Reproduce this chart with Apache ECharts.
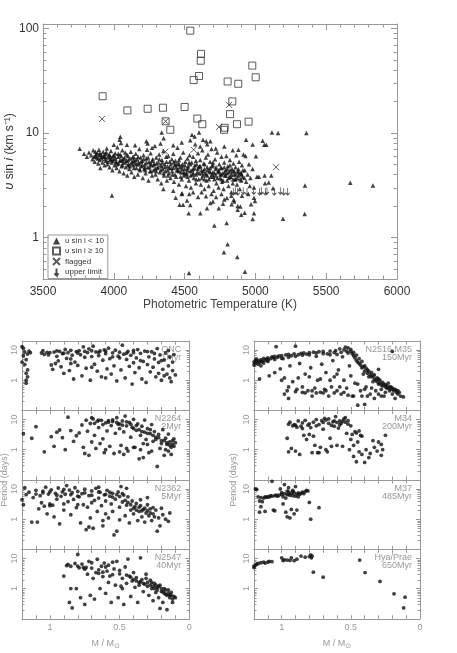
<!DOCTYPE html>
<html>
<head>
<meta charset="utf-8">
<script src="https://cdn.jsdelivr.net/npm/echarts@6/dist/echarts.min.js"></script>
<style>
html, body { margin: 0; padding: 0; background: #fff; }
#my_chart { width: 457px; height: 653px; }
</style>
</head>
<body>
<div id="my_chart"></div>
<script>
// ---- top panel: photometric temperature (K) vs v sin i (km/s)
var vsiniLow = [
[3759,7.05],[3987,2.52],[5670,3.34],[5830,3.14],[5360,9.95],[5350,3.14],[5348,1.67],[5195,1.51],[5117,10.1],[5160,9.95],
[5051,8.4],[5063,7.7],[5077,7.7],[4981,7.76],[4934,8.6],[5004,5.96],[5011,3.8],[5025,3.8],[5065,3.9],[5112,3.9],
[5068,3.3],[5094,3.35],[5124,2.96],[4797,1.37],[4710,1.3],[4804,0.86],[4778,0.72],[4872,0.65],[4531,0.456],[4926,0.47],
[4981,1.5],[4924,1.72],[4990,1.7],[4997,2.23],[4969,2.07],[4894,1.98],[4875,2.0],[4900,1.65],[4875,1.84],[4832,2.08],
[4771,2.1],[4741,1.9],[4658,1.9],[4611,1.7],[4529,1.7],[4540,2.04],[4489,2.05],[4465,2.05],[4437,2.4],[4482,2.65],
[4533,2.6],[4517,2.25],[4595,2.43],[4651,2.47],[4682,2.13],[4722,2.43],[4799,2.38],[4847,2.29],
[4571,9.25],[4602,10.1],[4552,9.6],[4653,8.3],[4338,10.1],[4352,8.9],[4682,8.3],[4630,8.6],[4046,9.2],[4041,8.6],[4239,7.9],[4093,7.7],
[3790,6.3],[3810,5.9],[3825,6.5],[3840,6.1],[3850,5.6],[3855,6.8],[3865,5.3],[3870,6.0],[3880,5.8],[3885,6.4],
[3890,5.1],[3895,6.9],[3900,5.5],[3905,4.6],[3910,6.2],[3915,5.7],[3920,5.2],[3925,6.6],[3930,5.9],[3935,4.9],
[3940,6.3],[3945,5.4],[3950,7.1],[3955,5.0],[3960,5.8],[3965,6.1],[3970,4.7],[3975,5.5],[3980,6.7],[3985,5.2],[3990,4.4],[3995,6.0],
[4000,5.6],[4005,4.9],[4010,6.4],[4015,5.3],[4020,4.6],[4025,7.3],[4030,5.9],[4035,5.1],[4040,4.3],[4045,6.2],
[4050,5.5],[4055,4.8],[4060,6.8],[4065,5.2],[4070,4.1],[4075,5.8],[4080,6.5],[4085,4.7],[4090,5.4],[4095,3.9],
[4100,6.0],[4105,5.0],[4110,4.5],[4115,5.7],[4120,6.6],[4125,4.2],[4130,5.3],[4135,4.9],[4140,5.9],[4145,3.8],
[4150,5.1],[4155,6.3],[4160,4.6],[4165,5.6],[4170,4.0],[4175,5.2],[4180,7.0],[4185,4.4],[4190,5.8],[4195,4.8],
[4200,5.4],[4205,3.7],[4210,6.1],[4215,4.5],[4220,5.0],[4225,4.1],[4230,5.7],[4235,6.9],[4240,4.7],[4245,3.5],
[4250,5.3],[4255,4.3],[4260,6.4],[4265,4.9],[4270,3.9],[4275,5.6],[4280,4.4],[4285,5.1],[4290,7.5],[4295,4.0],
[4300,5.8],[4305,4.6],[4310,3.6],[4315,5.2],[4320,6.2],[4325,4.2],[4330,4.9],[4335,3.3],[4340,5.5],[4345,4.5],
[4350,6.7],[4355,3.9],[4360,5.0],[4365,4.3],[4370,5.9],[4375,3.5],[4380,4.8],[4385,6.0],[4390,4.1],[4395,5.3],
[4400,3.7],[4405,4.6],[4410,5.6],[4415,4.0],[4420,6.3],[4425,3.4],[4430,4.9],[4435,5.4],[4440,3.8],[4445,4.4],
[4450,7.2],[4455,5.1],[4460,3.2],[4465,4.7],[4470,5.8],[4475,4.2],[4480,3.6],[4485,5.0],[4490,6.5],[4495,3.9],
[4500,4.5],[4505,5.3],[4510,3.1],[4515,4.1],[4520,5.7],[4525,4.8],[4530,3.5],[4535,6.1],[4540,4.3],[4545,3.0],
[4550,5.2],[4555,4.0],[4560,5.9],[4565,3.7],[4570,4.6],[4575,7.8],[4580,3.3],[4585,5.0],[4590,4.2],[4595,6.4],
[4600,3.6],[4605,4.8],[4610,5.5],[4615,3.2],[4620,4.4],[4625,6.8],[4630,3.9],[4635,5.1],[4640,2.9],[4645,4.1],
[4650,5.8],[4655,3.5],[4660,4.7],[4665,6.2],[4670,3.1],[4675,4.3],[4680,5.3],[4685,3.8],[4690,7.0],[4695,4.0],
[4700,4.9],[4705,2.8],[4710,3.6],[4715,5.6],[4720,4.5],[4725,3.3],[4730,6.5],[4735,4.2],[4740,3.0],[4745,5.0],
[4750,3.7],[4755,4.6],[4760,5.9],[4765,3.4],[4770,4.1],[4775,2.9],[4780,5.2],[4785,3.9],[4790,4.4],[4795,6.0],
[4800,3.5],[4805,4.8],[4810,3.1],[4815,4.2],[4820,5.5],[4825,3.8],[4830,2.7],[4835,4.5],[4840,3.3],[4845,5.1],
[4850,4.0],[4855,3.6],[4860,4.7],[4865,6.1],[4870,3.2],[4875,4.3],[4880,3.9],[4885,5.3],[4890,2.9],[4895,4.1],
[4900,3.5],[4905,4.9],[4910,3.8],[4915,6.2],[4925,4.4],[4935,3.4],[4945,4.0],[4955,5.0],[4965,3.7],[4980,4.5],
[4420,4.6],[4440,5.0],[4460,4.3],[4480,4.8],[4500,4.1],[4520,4.4],[4540,5.0],[4560,4.5],[4580,4.0],[4600,4.7],
[4620,4.1],[4640,4.5],[4660,3.9],[4680,4.6],[4700,4.2],[4720,3.9],[4740,4.4],[4760,4.0],[4780,4.7],[4800,4.1],
[4820,3.8],[4840,4.3],[4860,3.6],[4880,4.5],[4900,4.1],[4460,5.5],[4520,3.8],[4580,5.4],[4640,3.6],[4700,5.2],
[4760,3.6],[4820,4.9],[4380,4.4],[4340,4.8],[4300,4.3],[4260,5.1],[4220,4.7],[4180,5.0],[4140,5.4],[4100,4.9],
[4060,5.5],[4020,5.2],[3980,5.6],[3940,5.9],[3900,6.1],[3870,6.6],
[4350,2.9],[4420,2.8],[4480,2.6],[4560,2.7],[4620,2.7],[4690,2.6],[4760,2.6],[4830,2.5],[4850,2.2],[4780,2.3],
[4700,2.2],[4905,2.5],[4950,2.6],[4990,2.4],[4990,3.0],[4960,3.1],
[4420,7.6],[4480,8.1],[4540,8.5],[4610,7.4],[4660,7.8],[4720,7.1],[4780,7.4],[4840,6.8],[4880,6.9],[4930,6.0],
[4150,7.6],[4050,8.0],[4000,7.7],[4270,7.2],[4330,7.9],[4230,8.3],
[3860,5.9],[3875,6.2],[3888,5.7],[3902,6.4],[3912,5.9],[3928,6.0],[3938,5.6],[3948,6.5],[3958,5.3],[3968,6.2],
[3978,5.9],[3992,5.4],[4002,6.1],[4012,5.7],[4022,5.0],[4032,6.3],[4042,5.4],[4052,6.0],[4062,4.9],[4072,5.6],
[4082,5.2],[4092,6.2],[4102,5.5],[4112,4.8],[4122,5.1],[4132,5.8],[4142,4.6],[4152,5.5],[4162,5.0],[4172,5.9],
[4182,4.5],[4192,5.3],[4202,4.9],[4212,5.6],[4222,4.4],[4232,5.2],[4242,5.8],[4252,4.7],[4262,4.3],[4272,5.4],
[4282,4.9],[4292,4.5],[4302,5.1],[4312,4.7],[4322,5.6],[4332,4.4],[4342,5.2],[4352,4.1],[4362,4.7],[4372,5.3],
[4382,3.9],[4392,4.6],[4402,5.0],[4412,4.3],[4422,5.2],[4432,4.0],[4442,4.7],[4452,4.4],[4462,5.0],[4472,3.8],
[4482,4.5],[4492,4.2],[4502,4.9],[4512,4.0],[4522,4.6],[4532,5.2],[4542,3.9],[4552,4.4],[4562,4.1],[4572,4.9],
[4582,3.6],[4592,4.5],[4602,4.1],[4612,4.8],[4622,3.7],[4632,4.3],[4642,5.0],[4652,4.0],[4662,4.4],[4672,3.6],
[4682,4.2],[4692,4.8],[4702,3.8],[4712,4.1],[4722,4.7],[4732,3.7],[4742,4.3],[4752,4.0],[4762,4.6],[4772,3.5],
[4782,4.2],[4792,3.9],[4802,4.5],[4812,3.7],[4822,4.4],[4832,4.0],[4842,3.6],[4852,4.3],[4862,4.0],[4872,3.7],
[4882,4.2],[4892,3.6],[4902,4.0],[4912,4.4],[4922,3.7]
];
var vsiniHigh = [
[4540,95],[4616,57],[4614,49],[4602,35],[4564,32],[4978,44],[5002,34],[4804,31],[4879,29.5],[3921,22.4],
[4096,16.4],[4239,17],[4347,17.4],[4500,17.7],[4837,20],[4821,15.1],[4366,12.9],[4399,10.7],[4590,13.7],[4625,12.1],
[4778,10.7],[4783,11.2],[4870,12.1],[4952,12.8]
];
var vsiniFlagged = [[3917,13.6],[4366,12.9],[4814,18.5],[4743,11.4],[5146,4.7],[4364,6.6],[4564,6.9]];
var vsiniUpper = [[4844,2.75],[4858,2.8],[4875,2.75],[4914,2.8],[4941,2.75],[4988,2.8],[5030,2.75],[5042,2.8],
[5070,2.75],[5082,2.8],[5134,2.75],[5176,2.8],[5200,2.75],[5228,2.75]];

// ---- bottom panels: mass (M/Msun) vs rotation period (days)
var periodONC = [
[1.17,0.8],[1.17,1.0],[1.16,1.3],[1.17,1.7],[1.16,2.2],[1.18,3.3],[1.17,4.8],[1.19,6.5],[1.18,8.6],[1.19,11.5],[1.16,7.4],[1.2,4.0],[1.15,9.3],[1.2,13],[1.14,8.2],
[1.06,8.0],[1.05,9.5],[1.04,7.2],[1.02,8.4],[1.01,6.9],[0.99,3.2],[0.98,2.3],[0.97,8.6],[0.96,3.6],[0.95,6.2],[0.94,4.4],[0.93,9.1],[0.92,2.8],[0.91,7.6],[0.90,1.7],
[0.89,10.5],[0.88,5.3],[0.87,8.2],[0.86,2.1],[0.85,9.8],[0.84,6.8],[0.83,1.1],[0.82,4.0],[0.81,8.9],[0.80,3.1],[0.79,9.6],[0.78,7.0],[0.77,1.4],[0.76,12.8],[0.75,5.8],
[0.74,2.5],[0.73,8.3],[0.72,10.9],[0.71,1.0],[0.70,6.1],[0.69,13.5],[0.68,3.4],[0.67,8.7],[0.66,2.0],[0.65,6.6],[0.64,9.4],[0.63,1.3],[0.62,4.6],[0.61,10.2],[0.60,7.6],
[0.59,2.4],[0.58,11.6],[0.57,5.2],[0.56,1.6],[0.55,8.1],[0.54,3.0],[0.53,9.9],[0.52,0.95],[0.51,6.3],[0.50,8.5],[0.49,2.2],[0.48,14.5],[0.47,7.3],[0.46,1.2],[0.45,4.9],
[0.44,9.0],[0.43,2.9],[0.42,6.7],[0.41,0.75],[0.40,8.2],[0.39,1.8],[0.38,5.5],[0.37,10.4],[0.36,2.6],[0.35,7.8],[0.34,1.1],[0.33,4.2],[0.32,9.3],[0.31,0.85],[0.30,3.3],
[0.29,6.0],[0.28,1.9],[0.27,8.8],[0.26,2.7],[0.25,5.1],[0.24,1.3],[0.23,11.2],[0.22,3.9],[0.21,6.9],[0.20,1.0],[0.19,2.3],[0.18,4.7],[0.17,8.0],[0.16,1.6],[0.15,3.0],
[0.14,5.9],[0.13,0.9],[0.12,2.1],[0.11,7.1],[0.10,1.5],
[1.0,8.3],[0.95,9.4],[0.9,7.9],[0.85,5.1],[0.8,8.0],[0.75,9.0],[0.7,9.5],[0.65,8.4],[0.6,9.2],[0.55,6.0],[0.5,5.5],[0.45,7.9],[0.4,9.8],[0.35,4.5],[0.3,8.9],
[0.25,7.7],[0.2,4.5],[0.15,9.6],[0.12,4.0],[0.18,1.4],[0.22,1.7],[0.14,1.2],[0.6,1.2],[0.7,2.7],[0.85,3.6],[0.4,3.8]
];
var periodN2264 = [
[1.19,3.4],[1.13,2.4],[1.1,5.8],[1.04,0.85],[0.99,2.7],[0.97,1.3],[0.95,3.8],[0.93,4.5],[0.91,2.5],[0.89,1.0],[0.87,12],[0.85,4.3],[0.83,1.9],[0.81,2.9],[0.79,3.6],
[0.77,6.6],[0.76,1.2],[0.75,0.75],[0.74,9.5],[0.73,4.1],[0.72,0.65],[0.71,7.4],[0.70,1.8],[0.69,10.5],[0.68,3.0],[0.67,1.1],[0.66,8.8],[0.65,5.4],[0.64,1.6],[0.63,9.4],
[0.62,2.3],[0.61,0.8],[0.60,7.8],[0.59,4.2],[0.58,9.2],[0.57,1.3],[0.56,6.3],[0.55,8.6],[0.54,0.75],[0.53,3.5],[0.52,11.5],[0.51,7.0],[0.50,5.0],[0.49,1.4],[0.48,9.0],
[0.47,3.9],[0.46,13],[0.45,6.2],[0.44,0.9],[0.43,8.0],[0.42,2.6],[0.41,5.6],[0.40,10.2],[0.39,1.2],[0.38,4.4],[0.37,7.2],[0.36,0.5],[0.35,3.0],[0.34,6.0],[0.33,1.6],
[0.32,9.6],[0.31,2.2],[0.30,5.0],[0.29,0.8],[0.28,3.4],[0.27,6.8],[0.26,1.9],[0.25,4.0],[0.24,2.6],[0.23,0.28],[0.22,3.2],[0.21,1.1],[0.20,2.0],[0.19,4.6],[0.18,0.65],
[0.17,2.4],[0.16,1.5],[0.15,3.3],[0.14,1.8],[0.13,0.7],[0.12,2.0],[0.11,1.3],[0.10,1.7],
[0.58,8.2],[0.55,9.8],[0.52,8.0],[0.5,7.2],[0.48,6.5],[0.45,8.4],[0.42,7.0],[0.4,5.0],[0.38,6.3],[0.36,4.6],[0.34,4.0],[0.32,3.8],[0.3,3.5],[0.28,4.6],[0.26,3.0],
[0.24,2.2],[0.22,2.5],[0.2,1.6],[0.18,2.0],[0.16,1.7],[0.14,1.4],[0.12,1.5],[0.11,2.3],[0.13,1.2],[0.15,0.9],[0.17,1.0],[0.62,6.8],[0.65,9.6],[0.68,7.5],[0.7,11.5],
[0.6,1.0],[0.5,0.85],[0.45,1.1],[0.4,1.2],[0.35,1.0],[0.3,1.5],[0.27,0.9],[0.47,0.7],[0.33,0.55]
];
var periodN2362 = [
[1.19,3.0],[1.2,4.4],[1.18,11],[1.17,6.5],[1.15,7.8],[1.13,0.8],[1.12,5.2],[1.1,9.0],[1.09,0.8],[1.08,2.2],[1.07,6.0],[1.06,3.5],[1.05,8.5],[1.04,2.7],[1.03,11.5],
[1.02,1.5],[1.01,6.8],[1.0,3.2],[0.99,9.4],[0.98,2.9],[0.97,1.2],[0.96,7.2],[0.95,4.6],[0.94,10.8],[0.93,0.7],[0.92,5.7],[0.91,8.0],[0.9,2.0],[0.89,6.7],[0.88,13],
[0.87,3.8],[0.86,9.2],[0.85,1.4],[0.84,7.5],[0.83,4.5],[0.82,11],[0.81,2.4],[0.8,8.3],[0.79,5.5],[0.78,0.75],[0.77,7.0],[0.76,3.0],[0.75,9.8],[0.74,0.45],[0.73,2.5],
[0.72,6.0],[0.71,1.1],[0.70,8.6],[0.69,0.5],[0.68,4.2],[0.67,10.5],[0.66,1.8],[0.65,5.0],[0.64,7.8],[0.63,2.8],[0.62,0.9],[0.61,6.4],[0.60,4.0],[0.59,9.0],[0.58,1.1],
[0.57,5.8],[0.56,3.2],[0.55,7.2],[0.54,0.3],[0.53,4.6],[0.52,0.4],[0.51,8.0],[0.50,2.5],[0.49,12],[0.48,3.7],[0.47,6.3],[0.46,1.3],[0.45,2.9],[0.44,5.5],[0.43,0.75],
[0.42,2.0],[0.41,4.0],[0.40,1.5],[0.39,2.6],[0.38,3.3],[0.37,0.9],[0.36,1.8],[0.35,2.8],[0.34,1.2],[0.33,2.1],[0.32,0.8],[0.31,1.6],[0.30,3.0],[0.29,1.3],[0.28,2.2],
[0.27,0.9],[0.26,1.5],[0.25,1.2],[0.24,2.0],[0.23,0.4],[0.22,1.1],[0.21,0.6],[0.20,2.3],[0.19,1.4],[0.17,1.0],[0.15,0.85],[0.14,1.6],
[1.1,6.8],[1.05,7.5],[1.0,8.0],[0.95,6.2],[0.9,9.6],[0.85,6.5],[0.8,5.8],[0.75,7.4],[0.7,6.2],[0.65,8.0],[0.6,6.6],[0.57,7.8],[0.55,5.4],[0.52,6.5],[0.5,5.6],
[0.48,7.0],[0.46,4.2],[0.44,3.6],[0.42,3.0],[0.4,2.3],[0.38,2.0],[0.36,2.5],[0.34,1.9],[0.32,2.3],[0.3,1.9],[0.28,1.6],[0.26,2.4],[0.3,5.2],[0.35,4.4],[0.45,10.5],
[0.65,11.5],[0.7,3.5],[0.8,3.0],[0.9,3.2],[1.0,2.8],[0.6,1.5],[0.55,1.8],[0.5,0.95],[0.62,0.6],[0.72,0.55]
];
var periodN2547 = [
[0.9,2.6],[0.88,5.8],[0.87,6.3],[0.86,0.35],[0.85,5.5],[0.85,1.0],[0.84,0.23],[0.82,6.8],[0.81,1.0],[0.8,13.5],[0.79,4.9],[0.78,0.5],[0.77,6.5],[0.76,5.0],[0.75,0.3],
[0.74,5.0],[0.73,3.0],[0.72,8.0],[0.71,0.6],[0.70,4.8],[0.69,2.2],[0.68,0.45],[0.67,3.4],[0.66,9.4],[0.65,4.2],[0.64,1.0],[0.63,5.5],[0.62,2.5],[0.61,7.0],[0.60,0.7],
[0.59,3.8],[0.58,1.6],[0.57,2.6],[0.56,0.35],[0.55,7.5],[0.54,4.5],[0.53,1.3],[0.52,8.0],[0.51,0.5],[0.50,3.1],[0.49,1.2],[0.48,2.2],[0.47,0.3],[0.46,5.2],[0.45,1.5],
[0.44,9.5],[0.43,2.6],[0.42,0.55],[0.41,1.8],[0.40,3.4],[0.39,1.1],[0.38,2.3],[0.37,0.35],[0.36,1.6],[0.35,10.5],[0.34,2.0],[0.33,0.8],[0.32,1.4],[0.31,3.0],[0.30,1.2],
[0.29,0.6],[0.28,1.9],[0.27,1.0],[0.26,0.4],[0.25,1.5],[0.24,0.75],[0.23,1.1],[0.22,0.5],[0.21,1.3],[0.20,0.8],[0.19,0.35],[0.18,1.0],[0.17,0.65],[0.16,0.2],[0.15,0.9],
[0.14,0.6],[0.13,0.75],[0.12,0.45],[0.11,0.55],[0.10,0.5],
[0.45,2.8],[0.42,2.4],[0.4,2.0],[0.38,1.8],[0.35,1.7],[0.33,1.5],[0.3,1.6],[0.28,1.3],[0.26,1.2],[0.25,1.0],[0.23,0.9],[0.22,1.2],[0.2,1.0],[0.19,0.8],[0.18,0.7],
[0.17,0.9],[0.16,0.6],[0.15,0.7],[0.14,0.5],[0.13,0.6],[0.24,1.3],[0.27,1.6],[0.31,2.2],[0.36,1.3],[0.5,4.0],[0.55,2.9],[0.6,5.2],[0.65,3.2],[0.7,7.2],[0.75,4.4],
[0.8,5.6],[0.62,3.5],[0.58,6.0],[0.48,1.0],[0.21,0.22],[0.12,0.35]
];
var periodN2516 = [
[1.2,4.0],[1.2,3.2],[1.19,4.6],[1.19,3.6],[1.18,4.2],[1.18,5.0],[1.17,3.4],[1.17,4.4],[1.16,3.9],[1.16,1.1],[1.15,4.8],[1.15,3.0],[1.14,4.1],[1.13,5.3],[1.13,3.7],
[1.12,4.6],[1.11,5.0],[1.1,5.5],[1.1,4.2],[1.09,1.4],[1.08,5.2],[1.07,6.0],[1.06,5.6],[1.05,1.8],[1.05,6.2],[1.04,13],[1.03,5.8],[1.02,6.4],[1.01,2.4],[1.0,6.6],
[0.99,5.2],[0.98,1.2],[0.97,6.9],[0.96,0.45],[0.95,7.2],[0.95,0.25],[0.94,3.0],[0.93,6.5],[0.92,0.9],[0.91,7.5],[0.9,13.5],[0.89,0.5],[0.88,7.0],[0.87,3.6],[0.86,7.8],
[0.85,0.4],[0.84,8.0],[0.83,1.6],[0.82,7.4],[0.81,0.45],[0.8,8.2],[0.79,2.6],[0.78,0.3],[0.77,8.5],[0.76,0.55],[0.75,6.2],[0.74,1.0],[0.73,8.8],[0.72,0.4],[0.71,3.4],
[0.70,9.0],[0.69,0.5],[0.68,1.8],[0.67,7.5],[0.66,0.3],[0.65,9.3],[0.64,0.6],[0.63,4.5],[0.62,1.3],[0.61,9.6],[0.60,0.45],[0.59,2.2],[0.58,11],[0.57,0.35],[0.56,6.0],
[0.55,1.0],[0.54,12.5],[0.53,0.55],[0.52,8.0],[0.51,3.0],[0.50,10.5],[0.49,0.3],[0.48,6.5],[0.47,0.8],[0.46,4.5],[0.45,0.15],[0.44,3.6],[0.43,0.45],[0.42,2.6],[0.41,1.6],
[0.40,3.0],[0.39,0.6],[0.38,2.2],[0.37,1.3],[0.36,0.35],[0.35,1.8],[0.34,0.9],[0.33,1.5],[0.32,0.45],[0.31,1.2],[0.30,0.75],[0.29,1.0],[0.28,0.5],[0.27,0.85],[0.26,0.3],
[0.25,0.7],[0.24,0.55],[0.23,0.8],[0.22,0.45],[0.21,0.6],[0.20,0.35],[0.19,0.5],[0.18,0.25],[0.17,0.45],[0.16,0.35],[0.15,0.4],[0.14,0.3],[0.12,0.28],
[0.5,9.0],[0.49,7.6],[0.48,8.4],[0.47,5.5],[0.46,6.8],[0.45,4.0],[0.44,5.2],[0.43,3.2],[0.42,4.2],[0.41,2.8],[0.4,2.0],[0.39,2.5],[0.38,1.7],[0.37,2.0],[0.36,1.5],
[0.35,1.3],[0.34,1.4],[0.33,1.1],[0.32,1.0],[0.31,0.9],[0.3,1.1],[0.29,0.8],[0.28,0.7],[0.27,0.65],[0.26,0.75],[0.25,0.6],[0.24,0.65],[0.23,0.55],[0.22,0.6],[0.21,0.5],
[0.2,0.55],[0.19,0.45],[0.18,0.5],[0.17,0.4],[0.16,0.45],[0.55,10.2],[0.53,9.2],[0.52,11.8],[0.57,8.4],[0.6,7.2],[0.62,8.3],[0.65,7.0],[0.7,7.6],[0.75,8.0],[0.8,7.0],
[0.85,6.8],[0.9,6.2],[0.95,5.8],[1.0,5.4],[1.05,4.9],[1.1,4.6],[1.15,4.3],
[1.0,1.0],[0.98,0.35],[0.95,0.6],[0.9,0.42],[0.88,1.2],[0.85,0.6],[0.83,0.38],[0.8,1.3],[0.78,0.45],[0.75,0.38],[0.72,1.1],[0.7,0.38],[0.68,0.45],[0.65,1.0],[0.62,0.38],
[0.6,1.6],[0.58,0.6],[0.55,0.4],[0.52,0.32],[0.5,1.4],[0.48,0.3],[0.45,0.75],[0.42,0.3],[0.4,0.5],[0.38,0.3],[0.35,0.55],[0.33,0.25],[0.3,0.35],[0.28,0.3],[0.25,0.4],
[0.4,0.16],[0.2,9.0],[0.3,2.3]
];
var periodM34 = [
[0.96,2.4],[0.95,7.0],[0.95,0.85],[0.94,8.2],[0.93,1.1],[0.92,6.2],[0.91,6.8],[0.9,0.9],[0.89,5.6],[0.88,9.0],[0.87,0.7],[0.86,6.0],[0.85,7.8],[0.84,3.0],[0.83,9.4],
[0.82,2.2],[0.81,6.5],[0.8,3.2],[0.79,5.4],[0.78,0.8],[0.77,8.2],[0.76,1.4],[0.75,10],[0.74,0.8],[0.73,6.8],[0.72,1.2],[0.71,9.2],[0.7,4.8],[0.69,11],[0.68,1.0],
[0.67,0.85],[0.66,7.5],[0.65,2.4],[0.64,1.3],[0.63,8.4],[0.62,6.0],[0.61,12.5],[0.6,1.4],[0.59,5.2],[0.58,9.0],[0.57,7.5],[0.56,1.3],[0.55,10.5],[0.54,8.2],[0.53,3.5],
[0.52,7.0],[0.51,1.0],[0.5,2.2],[0.49,3.2],[0.48,0.6],[0.47,4.0],[0.46,0.4],[0.45,1.8],[0.44,0.85],[0.43,3.0],[0.42,0.7],[0.4,0.38],[0.39,1.0],[0.37,0.55],[0.36,0.75],
[0.34,2.0],[0.33,1.2],[0.31,0.9],[0.3,1.8],[0.28,1.5],[0.28,0.65],[0.27,1.0],[0.25,3.0],
[0.7,8.0],[0.68,9.6],[0.66,10.5],[0.64,6.4],[0.62,9.0],[0.6,8.0],[0.58,6.6],[0.56,8.8],[0.54,11.5],[0.52,9.2],[0.5,6.2],[0.48,1.4],[0.46,3.6],[0.44,4.2],[0.42,2.8],
[0.8,7.2],[0.85,5.0],[0.9,6.5],[0.75,6.2],[0.77,2.8],[0.73,0.8]
];
var periodM37 = [
[1.19,10],[1.18,9.6],[1.17,5.5],[1.16,4.0],[1.16,1.7],[1.15,2.6],[1.15,5.2],[1.14,3.8],[1.13,5.0],[1.12,5.5],[1.12,1.8],[1.11,5.3],[1.1,5.6],[1.09,5.4],[1.08,6.0],
[1.07,18],[1.07,5.8],[1.06,2.0],[1.05,1.9],[1.05,6.0],[1.04,6.3],[1.03,5.8],[1.02,6.2],[1.01,10],[1.0,6.6],[0.99,5.5],[0.99,3.2],[0.98,14],[0.98,7.0],[0.97,1.7],
[0.97,5.0],[0.96,6.5],[0.96,1.2],[0.95,8.0],[0.95,11],[0.94,6.2],[0.94,1.1],[0.93,7.2],[0.93,2.1],[0.92,6.0],[0.92,9.0],[0.91,7.5],[0.91,1.5],[0.9,5.8],[0.9,12],
[0.89,6.8],[0.89,2.0],[0.88,7.4],[0.87,6.6],[0.86,7.2],[0.85,7.8],[0.84,7.0],[0.83,8.2],[0.82,9.0],[0.81,8.6],[0.8,3.6],[0.79,1.0],[0.73,2.4],[1.0,7.5],[0.96,8.5],
[0.92,8.2],[0.88,5.5],[0.95,6.8]
];
var periodHyades = [
[1.2,5.0],[1.2,5.6],[1.19,6.0],[1.18,6.5],[1.17,6.8],[1.15,7.2],[1.13,7.6],[1.12,7.0],[1.1,7.5],[1.09,8.0],[1.07,7.8],[1.0,10.5],[0.99,8.5],[0.98,9.0],[0.96,8.8],
[0.94,8.6],[0.93,10.5],[0.91,8.4],[0.89,9.4],[0.86,12],[0.83,11],[0.8,11.5],[0.79,13],[0.785,10.5],[0.78,12],[0.771,3.5],[0.7,2.4],[0.436,8.8],[0.397,3.4],[0.289,1.73],
[0.188,0.67],[0.108,0.52],[0.118,0.23]
];
var clusterData = [periodONC, periodN2264, periodN2362, periodN2547, periodN2516, periodM34, periodM37, periodHyades];
var clusterLabels = ['ONC\n1Myr', 'N2264\n2Myr', 'N2362\n5Myr', 'N2547\n40Myr', 'N2516,M35\n150Myr', 'M34\n200Myr', 'M37\n485Myr', 'Hya/Prae\n650Myr'];
var minorTop = [0.5, 0.6, 0.7, 0.8, 0.9, 2, 3, 4, 5, 6, 7, 8, 9, 20, 30, 40, 50, 60, 70, 80, 90];
var minorPeriod = [0.2, 0.3, 0.4, 0.5, 0.6, 0.7, 0.8, 0.9, 2, 3, 4, 5, 6, 7, 8, 9];

var FONT = 'Liberation Sans';
var FRAME = '#999';
var myChart = echarts.init(document.getElementById('my_chart'));

function powLabel(allowed) {
    return function (v) {
        var l = Math.log10(v);
        var r = Math.round(l);
        if (Math.abs(l - r) < 1e-6 && allowed.indexOf(r) >= 0) {
            return String(Math.pow(10, r));
        }
        return '';
    };
}
function massLabel(v) {
    if (Math.abs(v) < 1e-6) return '0';
    if (Math.abs(v - 0.5) < 1e-6) return '0.5';
    if (Math.abs(v - 1) < 1e-6) return '1';
    return '';
}
function minorTickSeries(gi, xMid, values, len) {
    return {
        type: 'custom', xAxisIndex: 2 * gi, yAxisIndex: 2 * gi, silent: true, z: 1,
        data: values.map(function (v) { return [xMid, v]; }),
        renderItem: function (params, api) {
            var cs = params.coordSys;
            var y = Math.round(api.coord([api.value(0), api.value(1)])[1]) + 0.5;
            return {
                type: 'group', children: [
                    {type: 'line', shape: {x1: cs.x, y1: y, x2: cs.x + len, y2: y}, style: {stroke: FRAME, lineWidth: 1}},
                    {type: 'line', shape: {x1: cs.x + cs.width - len, y1: y, x2: cs.x + cs.width, y2: y}, style: {stroke: FRAME, lineWidth: 1}}
                ]
            };
        }
    };
}

var grids = [], xAxes = [], yAxes = [], series = [], graphics = [];

// top panel
grids.push({left: 43, top: 24, width: 354, height: 255, outerBoundsMode: 'none'});
['bottom', 'top'].forEach(function (pos) {
    xAxes.push({
        gridIndex: 0, type: 'value', position: pos, min: 3500, max: 6000, interval: 500,
        axisLine: {show: true, onZero: false, lineStyle: {color: FRAME}},
        axisTick: {show: true, inside: true, length: 6, lineStyle: {color: FRAME}},
        minorTick: {show: true, splitNumber: 5, length: 3.5, lineStyle: {color: FRAME}},
        splitLine: {show: false},
        axisLabel: {show: pos === 'bottom', color: '#333', fontSize: 12, margin: 7, fontFamily: FONT,
            formatter: function (v) { return String(v); }},
        name: pos === 'bottom' ? 'Photometric Temperature (K)' : '',
        nameLocation: 'middle', nameGap: 20, nameMoveOverlap: false,
        nameTextStyle: {color: '#444', fontSize: 12, fontFamily: FONT}
    });
});
['left', 'right'].forEach(function (pos) {
    yAxes.push({
        gridIndex: 0, type: 'log', logBase: 10, position: pos, min: 0.4, max: 110,
        axisLine: {show: true, onZero: false, lineStyle: {color: FRAME}},
        axisTick: {show: true, inside: true, length: 6, lineStyle: {color: FRAME}},
        splitLine: {show: false},
        axisLabel: {show: pos === 'left', color: '#333', fontSize: 12, margin: 4, fontFamily: FONT, formatter: powLabel([0, 1, 2])},
        name: pos === 'left' ? '{i|υ} sin {i|i} (km s⁻¹)' : '',
        nameLocation: 'middle', nameGap: 27, nameMoveOverlap: false,
        nameTextStyle: {color: '#333', fontSize: 12, fontFamily: FONT, rich: {i: {fontStyle: 'italic', fontSize: 13, fontFamily: FONT, color: '#333'}}}
    });
});
series.push({
    name: 'υ sin i < 10', type: 'scatter', xAxisIndex: 0, yAxisIndex: 0, symbol: 'triangle', symbolSize: 4.5,
    itemStyle: {color: '#111'}, data: vsiniLow, z: 3
});
series.push({
    name: 'υ sin i ≥ 10', type: 'scatter', xAxisIndex: 0, yAxisIndex: 0, symbol: 'rect', symbolSize: 7,
    itemStyle: {color: 'rgba(0,0,0,0)', borderColor: '#333', borderWidth: 1}, data: vsiniHigh, z: 4
});
series.push({
    name: 'flagged', type: 'scatter', xAxisIndex: 0, yAxisIndex: 0, symbol: 'path://M0,0L10,10M10,0L0,10', symbolSize: 6,
    itemStyle: {color: 'rgba(0,0,0,0)', borderColor: '#333', borderWidth: 1}, data: vsiniFlagged, z: 4
});
series.push({
    name: 'upper limit', type: 'scatter', xAxisIndex: 0, yAxisIndex: 0, symbol: 'path://M5,0L5,10M2,7L5,10L8,7', symbolSize: [4, 7],
    itemStyle: {color: 'rgba(0,0,0,0)', borderColor: '#222', borderWidth: 1}, data: vsiniUpper, z: 4
});
series.push(minorTickSeries(0, 4000, minorTop, 3.5));

// bottom panels
var PANEL_H = 69.45;
clusterData.forEach(function (data, k) {
    var gi = k + 1;
    var col = k < 4 ? 0 : 1;
    var row = k % 4;
    var left = col ? 254 : 22;
    var width = col ? 166 : 167.3;
    var top = 341 + row * PANEL_H;
    grids.push({left: left, top: top, width: width, height: PANEL_H, outerBoundsMode: 'none'});
    ['bottom', 'top'].forEach(function (pos) {
        var labelled = pos === 'bottom' && row === 3;
        xAxes.push({
            gridIndex: gi, type: 'value', position: pos, min: 0, max: 1.2, interval: 0.1, inverse: true,
            axisLine: {show: true, onZero: false, lineStyle: {color: FRAME}},
            axisTick: {show: true, inside: true, length: 3.5, lineStyle: {color: FRAME}},
            splitLine: {show: false},
            axisLabel: {show: labelled, color: '#999', fontSize: 9, margin: 4, fontFamily: FONT, formatter: massLabel},
            name: labelled ? 'M / M{s|⊙}' : '',
            nameLocation: 'middle', nameGap: 19, nameMoveOverlap: false,
            nameTextStyle: {color: '#999', fontSize: 9, fontFamily: FONT, rich: {s: {fontSize: 7, color: '#999', fontFamily: 'DejaVu Sans', padding: [5, 0, 0, 0]}}}
        });
    });
    ['left', 'right'].forEach(function (pos) {
        yAxes.push({
            gridIndex: gi, type: 'log', logBase: 10, position: pos, min: 0.1, max: 20,
            axisLine: {show: true, onZero: false, lineStyle: {color: FRAME}},
            axisTick: {show: true, inside: true, length: 4, lineStyle: {color: FRAME}},
            splitLine: {show: false},
            axisLabel: {show: pos === 'left', color: '#999', fontSize: 9, margin: 3, rotate: 90, fontFamily: FONT, formatter: powLabel([0, 1])}
        });
    });
    series.push({
        type: 'scatter', xAxisIndex: 2 * gi, yAxisIndex: 2 * gi, symbol: 'circle', symbolSize: 3.8,
        itemStyle: {color: '#111'}, data: data, z: 3
    });
    series.push(minorTickSeries(gi, 0.5, minorPeriod, 2.5));
    graphics.push({
        type: 'text', x: left + width - 8, y: top + 4.5, z: 0, silent: true,
        style: {text: clusterLabels[k], align: 'right', verticalAlign: 'top', fill: '#999', font: '9px ' + FONT, lineHeight: 8}
    });
});
// shared period axis titles
graphics.push({type: 'text', x: 5, y: 480, rotation: Math.PI / 2, silent: true,
    style: {text: 'Period (days)', align: 'center', verticalAlign: 'middle', fill: '#999', font: '9px ' + FONT}});
graphics.push({type: 'text', x: 234, y: 480, rotation: Math.PI / 2, silent: true,
    style: {text: 'Period (days)', align: 'center', verticalAlign: 'middle', fill: '#999', font: '9px ' + FONT}});

var option = {
    animation: false,
    textStyle: {fontFamily: FONT},
    legend: {
        data: ['υ sin i < 10', 'υ sin i ≥ 10', 'flagged', 'upper limit'],
        orient: 'vertical', left: 48, top: 235, itemWidth: 7, itemHeight: 7, itemGap: 1.5,
        padding: [2, 4], borderColor: FRAME, borderWidth: 1, selectedMode: false,
        textStyle: {fontSize: 8, color: '#333', fontFamily: FONT}
    },
    grid: grids,
    xAxis: xAxes,
    yAxis: yAxes,
    series: series,
    graphic: graphics
};
myChart.setOption(option);
</script>
</body>
</html>
